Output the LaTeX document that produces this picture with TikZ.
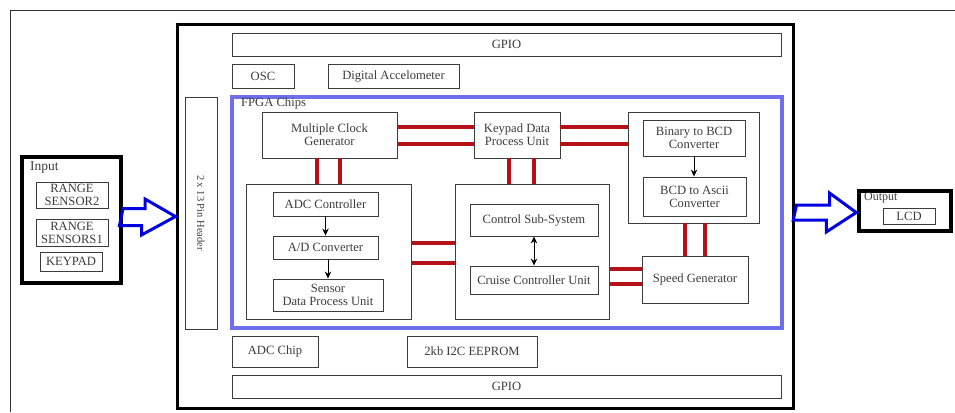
\documentclass[tikz,border=0pt]{standalone}
\usepackage{fontspec}
\setmainfont{Liberation Serif}
\usetikzlibrary{arrows.meta, calc}
\definecolor{busred}{RGB}{180,18,24}
\definecolor{fpgablue}{RGB}{110,110,238}
\definecolor{ioblue}{RGB}{0,0,225}
\definecolor{inkgray}{RGB}{60,60,60}
\tikzstyle{unit} = [rectangle, draw=inkgray, line width=0.9pt, text=inkgray, inner sep=0pt, align=center, font=\fontsize{12.6}{13}\selectfont]
\tikzstyle{board} = [rectangle, draw=black, line width=3pt, inner sep=0pt]
\tikzstyle{fpga} = [rectangle, draw=fpgablue, line width=4pt, inner sep=0pt]
\tikzstyle{tag} = [text=inkgray, inner sep=0pt, anchor=north west, font=\fontsize{12.6}{13}\selectfont]
\tikzstyle{bus} = [line width=4pt, draw=busred]
\tikzstyle{arrow} = [line width=0.9pt, ->, >={Stealth[length=7pt,width=6.5pt]}, draw=black]
\tikzstyle{hollow} = [line width=3pt, draw=ioblue, line join=miter]

\begin{document}
\begin{tikzpicture}[x=1pt, y=-1pt]
    \useasboundingbox (0,0) rectangle (955,412);
    \draw [draw=black!80, line width=0.9pt] (955,10) -- (10,10) -- (10,412);
    % main board
    \node (outer) [board, minimum width=616pt, minimum height=383pt] at (485,216.5) {};
    \node (gpiotop) [unit, minimum width=549pt, minimum height=23pt] at (506.5,44.5) {GPIO};
    \node (osc) [unit, minimum width=62pt, minimum height=24pt] at (263,76) {OSC};
    \node (accel) [unit, minimum width=131pt, minimum height=24pt] at (393.5,76) {Digital Accelometer};
    \node (header) [unit, minimum width=32pt, minimum height=232pt] at (201,213) {};
    \node [text=inkgray, rotate=-90, font=\fontsize{10.5}{11}\selectfont] at (header.center) {2 x 13 Pin Header};
    \node (fpga) [fpga, minimum width=550pt, minimum height=231pt] at (507,212.5) {};
    \node (fpgatag) [tag] at (241,98) {FPGA Chips};
    \node (clk) [unit, minimum width=135pt, minimum height=46pt] at (329.5,135) {Multiple Clock\\Generator};
    \node (kpd) [unit, minimum width=86pt, minimum height=46pt] at (517,135) {Keypad Data\\Process Unit};
    \node (bcdblk) [unit, minimum width=131pt, minimum height=111pt] at (693.5,167.5) {};
    \node (bin2bcd) [unit, minimum width=102pt, minimum height=36pt] at (694,138) {Binary to BCD\\Converter};
    \node (bcd2asc) [unit, minimum width=103pt, minimum height=39pt] at (694.5,196.5) {BCD to Ascii\\Converter};
    \node (adcblk) [unit, minimum width=165pt, minimum height=135pt] at (328.5,251.5) {};
    \node (adcctl) [unit, minimum width=105pt, minimum height=24pt] at (325.5,204) {ADC Controller};
    \node (adconv) [unit, minimum width=105pt, minimum height=23pt] at (325.5,247.5) {A/D Converter};
    \node (sdpu) [unit, minimum width=110pt, minimum height=32pt] at (328,295) {Sensor\\Data Process Unit};
    \node (ctlblk) [unit, minimum width=154pt, minimum height=135pt] at (532,251.5) {};
    \node (ctlsub) [unit, minimum width=128pt, minimum height=32pt] at (534,220) {Control Sub-System};
    \node (cruise) [unit, minimum width=128pt, minimum height=28pt] at (534,280) {Cruise Controller Unit};
    \node (speed) [unit, minimum width=106pt, minimum height=47pt] at (695,279.5) {Speed Generator};
    \node (adcchip) [unit, minimum width=86pt, minimum height=31pt] at (275,351.5) {ADC Chip};
    \node (eeprom) [unit, minimum width=130pt, minimum height=31pt] at (472,351.5) {2kb I2C EEPROM};
    \node (gpiobot) [unit, minimum width=549pt, minimum height=23pt] at (506.5,386.5) {GPIO};
    % input and output
    \node (inbox) [board, line width=4pt, minimum width=99pt, minimum height=126pt] at (71.5,220) {};
    \node (intag) [tag, font=\fontsize{13.5}{14}\selectfont] at (30,161) {Input};
    \node (rs2) [unit, minimum width=72pt, minimum height=26pt] at (72,195) {RANGE\\SENSOR2};
    \node (rs1) [unit, minimum width=72pt, minimum height=27pt] at (72,232.5) {RANGE\\SENSORS1};
    \node (kp) [unit, minimum width=62pt, minimum height=19pt] at (71,261.5) {KEYPAD};
    \node (outbox) [board, line width=3.5pt, minimum width=92pt, minimum height=40pt] at (905,211) {};
    \node (outtag) [tag, font=\fontsize{12}{12.5}\selectfont] at (864,192) {Output};
    \node (lcd) [unit, minimum width=52pt, minimum height=16pt] at (909,216) {LCD};
    % red buses
    \foreach \d in {-8,9} {
        \draw [bus] ($(clk.east)+(0,\d)$) -- ($(kpd.west)+(0,\d)$);
        \draw [bus] ($(kpd.east)+(0,\d)$) -- ($(bcdblk.west |- kpd.east)+(0,\d)$);
    }
    \foreach \d in {-12.5,10.5}
        \draw [bus] ($(clk.south)+(\d,0)$) -- ($(clk.south |- adcblk.north)+(\d,0)$);
    \foreach \d in {-8,17}
        \draw [bus] ($(kpd.south)+(\d,0)$) -- ($(kpd.south |- ctlblk.north)+(\d,0)$);
    \foreach \d in {-8.5,11.5}
        \draw [bus] ($(bcdblk.south)+(\d,0)$) -- ($(bcdblk.south |- speed.north)+(\d,0)$);
    \foreach \d in {-8.5,11.5}
        \draw [bus] ($(adcblk.east)+(0,\d)$) -- ($(ctlblk.west |- adcblk.east)+(0,\d)$);
    \foreach \d in {-10.5,4.5}
        \draw [bus] ($(speed.west)+(0,\d)$) -- ($(ctlblk.east |- speed.west)+(0,\d)$);
    % signal arrows
    \draw [arrow] (bin2bcd.south) -- (bin2bcd.south |- bcd2asc.north);
    \draw [arrow] (adcctl) -- (adconv);
    \draw [arrow] (adconv.south -| sdpu.north) -- (sdpu.north);
    \draw [arrow, <->] (ctlsub) -- (cruise);
    % hollow arrows
    \draw [hollow] ($(inbox.east)+(0,-11.5)$) -- ++(22,0) -- ++(0,-9.5) -- (outer.west) -- ++(-34,18.5) -- ++(0,-9.5) -- ++(-22,0) -- cycle;
    \draw [hollow] ($(outer.east)+(2,-11.5)$) -- ++(33,0) -- ++(0,-12) -- ($(outbox.west)+(-1,1.5)$) -- ++(-30,19.5) -- ++(0,-12) -- ++(-33,0) -- cycle;
\end{tikzpicture}
\end{document}
